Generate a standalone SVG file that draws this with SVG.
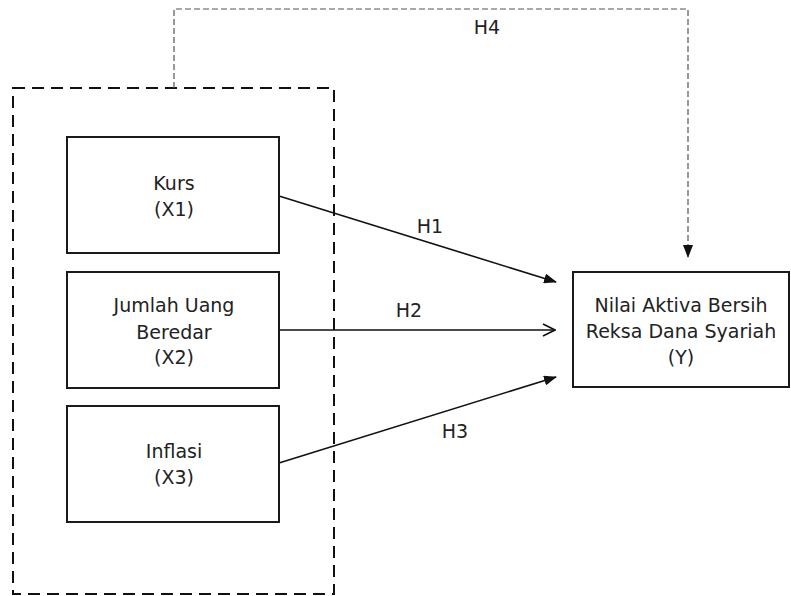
<svg xmlns="http://www.w3.org/2000/svg" width="791" height="596" viewBox="0 0 791 596">
<style>
.box{fill:#fff;stroke:#1a1a1a;stroke-width:2}
.t{font-family:"DejaVu Sans",sans-serif;font-size:19px;fill:#222;text-anchor:middle}
.c{stroke:#111;stroke-width:1.6;fill:none}
</style>
<defs>
<marker id="ah" markerWidth="13" markerHeight="10" refX="12" refY="5" orient="auto" markerUnits="userSpaceOnUse">
<path d="M0,0 L13,5 L0,10 Z" fill="#111"/>
</marker>
<marker id="ao" markerWidth="14" markerHeight="14" refX="13" refY="7" orient="auto" markerUnits="userSpaceOnUse">
<path d="M1,1 L13,7 L1,13" fill="none" stroke="#111" stroke-width="1.6"/>
</marker>
</defs>
<rect width="791" height="596" fill="#fff"/>
<g id="group-x">
<rect x="13" y="88" width="321" height="506" fill="none" stroke="#111" stroke-width="2" stroke-dasharray="12,7"/>
</g>
<g id="connectors">
<path d="M174,88 V9 H688 V257" fill="none" stroke="#555" stroke-width="1.2" stroke-dasharray="6,3" marker-end="url(#ah)"/>
<line class="c" x1="279" y1="196" x2="556" y2="282" marker-end="url(#ah)"/>
<line class="c" x1="279" y1="330" x2="555" y2="330" marker-end="url(#ao)"/>
<line class="c" x1="279" y1="463" x2="556" y2="377" marker-end="url(#ah)"/>
<text class="t" x="487" y="34">H4</text>
<text class="t" x="430" y="233">H1</text>
<text class="t" x="409" y="317">H2</text>
<text class="t" x="455" y="438">H3</text>
</g>
<g id="x1">
<rect class="box" x="67" y="137" width="212" height="116"/>
<text class="t" x="174" y="190">Kurs</text>
<text class="t" x="174" y="216">(X1)</text>
</g>
<g id="x2">
<rect class="box" x="67" y="272" width="212" height="116"/>
<text class="t" x="174" y="312">Jumlah Uang</text>
<text class="t" x="174" y="339">Beredar</text>
<text class="t" x="174" y="364">(X2)</text>
</g>
<g id="x3">
<rect class="box" x="67" y="406" width="212" height="116"/>
<text class="t" x="174" y="458">Inflasi</text>
<text class="t" x="174" y="484">(X3)</text>
</g>
<g id="y">
<rect class="box" x="573" y="272" width="216" height="115"/>
<text class="t" x="681" y="312">Nilai Aktiva Bersih</text>
<text class="t" x="681" y="338">Reksa Dana Syariah</text>
<text class="t" x="681" y="364">(Y)</text>
</g>
</svg>
